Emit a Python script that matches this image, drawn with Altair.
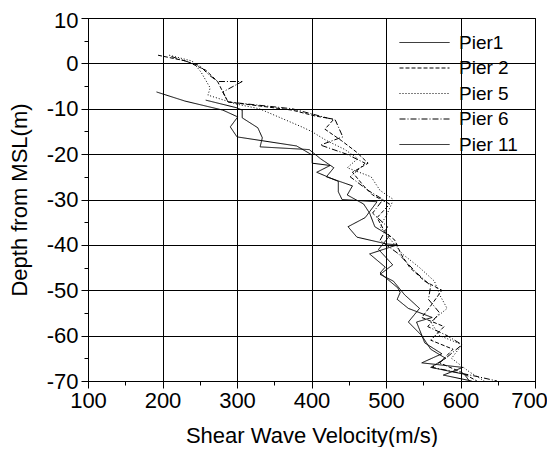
import altair as alt
import pandas as pd

piers = ["Pier1", "Pier 2", "Pier 5", "Pier 6", "Pier 11"]
dashes = [[1, 0], [4, 2], [1, 2], [6, 2, 1, 2], [1, 0]]

p1_v = [192, 230, 281, 301, 291, 300, 380, 401, 401, 425, 407, 436, 436, 441, 488, 472, 449, 461, 501, 515,
        478, 499, 492, 516, 519, 515, 530, 562, 541, 552, 575, 548, 603, 577, 615]
p1_d = [-6.3, -8.3, -10.3, -11.8, -14, -16.2, -18.2, -20.2, -22, -22.5, -24, -26, -28.3, -30, -30.5, -34, -36,
        -38.3, -39.8, -40, -42, -44.9, -46.2, -49.5, -50.5, -52, -54, -56, -57, -61.6, -64, -66, -67, -68.7, -70]

p2_v = [194, 232, 258, 274, 281, 288, 374, 405, 430, 418, 440, 460, 476, 455, 470, 482, 505, 488, 498, 512,
        520, 532, 552, 575, 562, 548, 578, 560, 590, 572, 600, 622]
p2_d = [1.8, 0.5, -1.5, -4, -6.3, -8.5, -10.3, -11.6, -12.3, -14.5, -17, -19.5, -22, -24, -27, -29, -31, -34,
        -37, -39, -42, -45, -48, -50, -53, -56, -58, -61, -63, -66, -68, -70]

p5_v = [209, 240, 252, 264, 261, 300, 330, 387, 400, 420, 445, 462, 448, 480, 492, 510, 502, 492, 507, 522,
        545, 565, 572, 582, 560, 572, 602, 588, 612, 632]
p5_d = [1.8, 0.5, -2, -5.4, -7, -9, -10, -14, -15, -17, -19, -21, -23, -25, -28, -30, -33, -36, -39, -42,
        -45, -48, -51, -54, -57, -60, -62, -65, -68, -70]

p6_v = [212, 250, 262, 274, 307, 281, 288, 374, 432, 442, 412, 447, 472, 452, 476, 496, 482, 502, 492, 517,
        540, 560, 557, 572, 556, 582, 602, 580, 562, 622, 649]
p6_d = [1.5, -0.5, -2.5, -4, -4, -6.3, -8.5, -10, -12.5, -16.2, -18, -20, -22, -25, -28, -30, -33, -36, -39,
        -42, -46, -49, -52, -55, -58, -60, -62, -65, -67, -69, -70]

p11_v = [258, 300, 307, 307, 328, 334, 331, 397, 412, 430, 420, 455, 448, 470, 478, 485, 505, 490, 509, 492,
         510, 525, 545, 530, 548, 560, 580, 560, 605, 612]
p11_d = [-8.1, -9.8, -10.3, -12, -14.2, -16.4, -18.4, -19, -21, -23, -25, -27, -29, -31, -33, -36, -38, -41,
         -44.4, -46.5, -48, -51, -54, -57, -60, -63, -65, -67, -68.5, -70]

series = [(piers[0], p1_v, p1_d), (piers[1], p2_v, p2_d), (piers[2], p5_v, p5_d),
          (piers[3], p6_v, p6_d), (piers[4], p11_v, p11_d)]

rows = []
for name, vs, ds in series:
    for i, (v, d) in enumerate(zip(vs, ds)):
        rows.append({"pier": name, "v": v, "d": d, "idx": i})
df = pd.DataFrame(rows)

FONT = "Liberation Sans"

x_axis = alt.Axis(
    values=list(range(100, 701, 50)),
    title="Shear Wave Velocity(m/s)",
    labelExpr="datum.value % 100 === 0 ? datum.label : ''",
    tickSize={"condition": {"test": "datum.value % 100 === 0", "value": 7}, "value": 4},
    gridOpacity={"condition": {"test": "datum.value % 100 === 0", "value": 1}, "value": 0},
    labelOffset={"condition": {"test": "datum.value === 700", "value": -6}, "value": 0},
    labelPadding=2,
    titlePadding=14,
    labelFlush=False,
)
y_axis = alt.Axis(
    values=list(range(-70, 11, 5)),
    title="Depth from MSL(m)",
    labelExpr="datum.value % 10 === 0 ? '' + datum.value : ''",
    tickSize={"condition": {"test": "datum.value % 10 === 0", "value": 7}, "value": 4},
    gridOpacity={"condition": {"test": "datum.value % 10 === 0", "value": 1}, "value": 0},
    labelOffset={"condition": {"test": "datum.value === 10", "value": 2}, "value": 0},
    labelPadding=3,
    titlePadding=15,
    labelFlush=False,
)

chart = alt.Chart(df).mark_line(color="black", strokeWidth=1).encode(
    x=alt.X("v:Q", scale=alt.Scale(domain=[100, 700], nice=False, zero=False), axis=x_axis),
    y=alt.Y("d:Q", scale=alt.Scale(domain=[-70, 10], nice=False, zero=False), axis=y_axis),
    strokeDash=alt.StrokeDash(
        "pier:N",
        scale=alt.Scale(domain=piers, range=dashes),
        legend=alt.Legend(
            orient="none", legendX=327, legendY=15, title=None,
            symbolType="M-5,0H5", symbolSize=100, symbolStrokeWidth=1,
            symbolStrokeColor="black", labelFontSize=19, labelOffset=25,
            rowPadding=5.5, padding=0, labelFont=FONT, labelColor="black",
        ),
    ),
    detail="pier:N",
    order=alt.Order("idx:Q"),
).properties(
    width=447, height=363,
    autosize=alt.AutoSizeParams(type="none"),
    padding={"left": 80, "top": 10, "right": 12, "bottom": 66},
).configure_view(
    stroke="black", strokeWidth=1
).configure_axis(
    domainColor="black", tickColor="black", gridColor="black", gridWidth=1,
    labelColor="black", titleColor="black", labelFont=FONT, titleFont=FONT,
    labelFontSize=22, titleFontSize=22, titleFontWeight="normal", tickWidth=1,
)

chart.save("out.html", embed_options={"renderer": "svg", "actions": False})
